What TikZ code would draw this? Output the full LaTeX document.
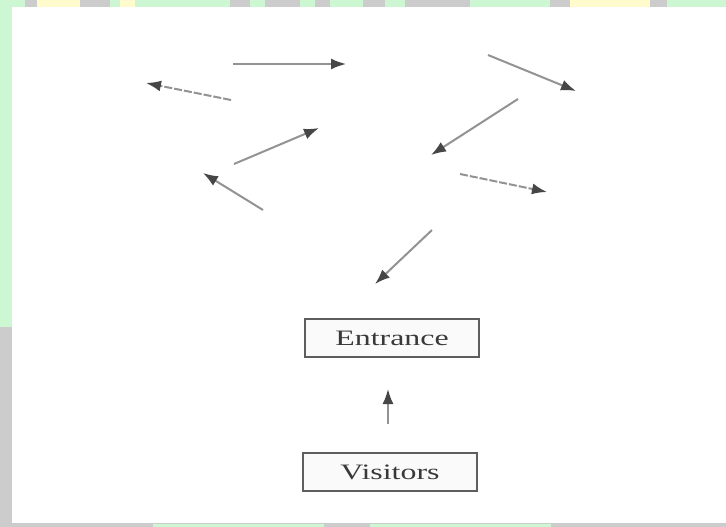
\documentclass[tikz,border=0pt]{standalone}
\usepackage{fontspec}
\setmainfont{Liberation Serif}
\usepackage{xcolor}
\usetikzlibrary{arrows.meta,positioning}

\definecolor{bggreen}{HTML}{CDF6D2}
\definecolor{bgyellow}{HTML}{FFFBCC}
\definecolor{bggray}{HTML}{CCCCCC}
\definecolor{inkgray}{HTML}{5E5E5E}
\newcommand{\widetext}[1]{\scalebox{1.45}[1]{#1}}

\begin{document}
\begin{tikzpicture}[
    x=1pt, y=-1pt,
    box/.style={draw=inkgray, rectangle, line width=2pt, fill=gray!4, minimum width=174pt, minimum height=38pt, align=center, font=\fontsize{22}{24}\selectfont, text=gray!45!black},
    arrow/.style={-{Latex[length=15pt,width=11pt,color=gray!55!black]}, line width=2pt, draw=gray!85},
    faint/.style={dash pattern=on 8pt off 2pt}
]
\useasboundingbox (0,0) rectangle (726,527);

% page background
\fill[bggreen] (0,0) rectangle (726,527);
\foreach \a/\b/\c in {25/37/bggray, 37/80/bgyellow, 80/110/bggray, 120/135/bgyellow, 230/250/bggray, 265/300/bggray, 315/330/bggray, 363/385/bggray, 405/470/bggray, 550/570/bggray, 570/650/bgyellow, 650/667/bggray}
    \fill[\c] (\a,0) rectangle (\b,8);
\fill[bggray] (0,327) rectangle (12,527);
\fill[bggray] (0,523) rectangle (726,527);
\fill[bggreen] (153,524) rectangle (324,527);
\fill[bggreen] (370,524) rectangle (551,527);
\fill[white] (12,7) rectangle (726,523);

% boxes
\node[box] (entrance) at (392,338) {\widetext{Entrance}};
\node[box] (visitors) at (390,472) {\widetext{Visitors}};

% loose arrows
\coordinate (a1) at (233,64);  \coordinate (b1) at (346,64);
\coordinate (a2) at (231,100); \coordinate (b2) at (146,83);
\coordinate (a3) at (488,55);  \coordinate (b3) at (576,91);
\coordinate (a4) at (518,99);  \coordinate (b4) at (431,155);
\coordinate (a5) at (234,164); \coordinate (b5) at (319,128);
\coordinate (a6) at (263,210); \coordinate (b6) at (203,173);
\coordinate (a7) at (460,174); \coordinate (b7) at (547,192);
\coordinate (a8) at (432,230); \coordinate (b8) at (375,284);
\coordinate (up) at (388,424); \coordinate (top) at (388,389);

\draw[arrow] (a1) -- (b1);
\draw[arrow, faint] (a2) -- (b2);
\draw[arrow] (a3) -- (b3);
\draw[arrow] (a4) -- (b4);
\draw[arrow] (a5) -- (b5);
\draw[arrow] (a6) -- (b6);
\draw[arrow, faint] (a7) -- (b7);
\draw[arrow] (a8) -- (b8);
\draw[arrow] (up) -- (top);

\end{tikzpicture}
\end{document}
